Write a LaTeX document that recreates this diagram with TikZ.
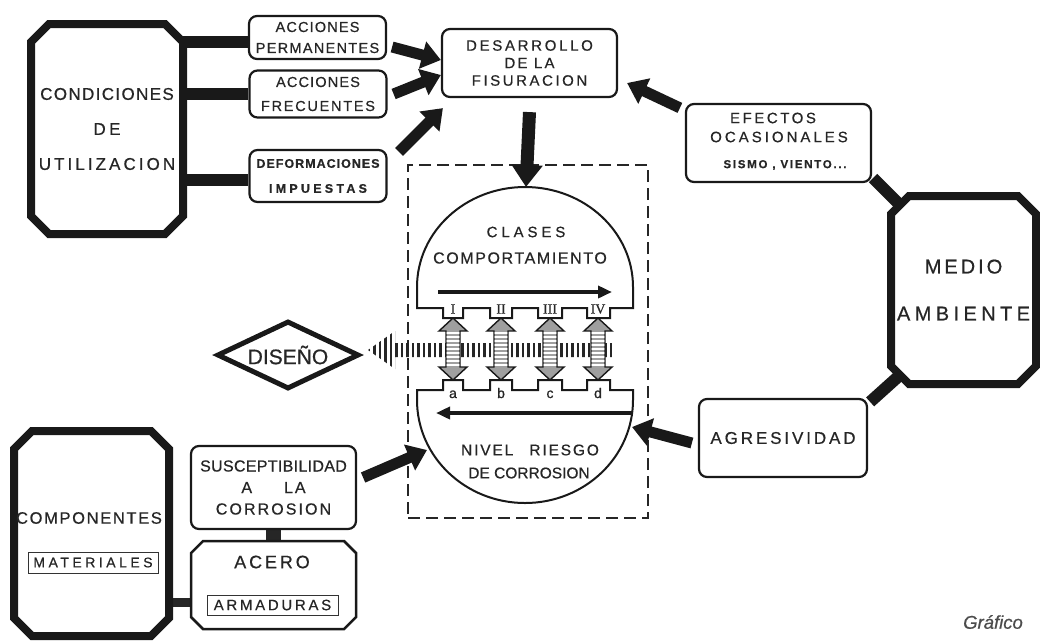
\documentclass[tikz,border=0pt]{standalone}
\usepackage{fontspec}
\setmainfont{Liberation Sans}[FakeBold=0.6]
\newfontfamily\romanfont{Liberation Serif}[FakeBold=0.6]
\usetikzlibrary{arrows.meta,shapes.geometric,calc}
\pgfdeclarelayer{bg}
\pgfdeclarelayer{mid}
\pgfsetlayers{bg,mid,main}
\newcommand\LS[2]{{\addfontfeature{LetterSpace=#1}#2}}
\newcommand\fsz[2]{\fontsize{#1}{#2}\selectfont}
\newcommand\myocta[3]{\draw[#3] ($(#1.north west)+(#2,0)$) -- ($(#1.north east)+(-#2,0)$) -- ($(#1.north east)+(0,#2)$) -- ($(#1.south east)+(0,-#2)$) -- ($(#1.south east)+(-#2,0)$) -- ($(#1.south west)+(#2,0)$) -- ($(#1.south west)+(0,-#2)$) -- ($(#1.north west)+(0,#2)$) -- cycle;}
\begin{document}
\begin{tikzpicture}[x=1pt,y=-1pt,
  txt/.style={text=black!85, inner sep=0pt, align=center},
  box/.style={txt, draw=black!90, line width=2.2pt, rounded corners=8pt, fill=white},
  anchorbox/.style={txt, draw=none, outer sep=0pt},
  framed/.style={txt, draw=black!80, line width=1pt},
  octthick/.style={line width=8pt, draw=black!90, fill=white, line join=miter},
  octthin/.style={line width=2.5pt, draw=black!90, fill=white, line join=miter},
  conn/.style={line width=12pt, black!90},
  fat/.style={line width=11pt, black!90, -{Triangle[length=19pt,width=27pt]}},
  thinarrow/.style={line width=4pt, black!90, -{Triangle[length=14pt,width=12pt]}},
]
\useasboundingbox (0,0) rectangle (1040,641);

% ---------- top left ----------
\node[anchorbox, minimum width=152pt, minimum height=210pt, font=\fsz{17}{35}] (cond) at (107,129)
  {\LS{8}{CONDICIONES}\\\LS{20}{DE}\\\LS{18}{UTILIZACION}};
\node[box, minimum width=137pt, minimum height=43pt, font=\fsz{14.5}{21}] (perm) at (317.5,37.5)
  {\LS{8}{ACCIONES}\\\LS{9}{PERMANENTES}};
\node[box, minimum width=137pt, minimum height=47pt, font=\fsz{14.5}{24}] (frec) at (318,94)
  {\LS{8}{ACCIONES}\\\LS{12}{FRECUENTES}};
\node[box, minimum width=137pt, minimum height=52pt, font=\bfseries\fsz{12.5}{25}] (defo) at (318,176)
  {\LS{8}{DEFORMACIONES}\\\LS{26}{IMPUESTAS}};
\node[box, minimum width=175pt, minimum height=68pt, font=\fsz{15}{17.5}] (desa) at (529.5,63)
  {\LS{18}{DESARROLLO}\\\LS{15}{DE LA}\\\LS{17}{FISURACION}};

% ---------- right ----------
\node[box, minimum width=185pt, minimum height=78pt] (efec) at (778.5,143) {};
\node[txt, font=\fsz{15}{15}] (efec1) at (773,118) {\LS{17}{EFECTOS}};
\node[txt, font=\fsz{15}{15}] (efec2) at (779,137) {\LS{20}{OCASIONALES}};
\node[txt, font=\bfseries\fsz{11.5}{11.5}] (efec3) at (785,165) {\LS{15}{SISMO , VIENTO...}};
\node[anchorbox, minimum width=145pt, minimum height=188pt, font=\fsz{20}{47}] (medio) at (963.5,290)
  {\LS{15}{MEDIO}\\\LS{22}{AMBIENTE}};
\node[box, minimum width=168pt, minimum height=78pt, font=\fsz{17}{17}] (agre) at (783,438)
  {\LS{17}{AGRESIVIDAD}};

% ---------- bottom left ----------
\node[anchorbox, minimum width=155pt, minimum height=205pt] (comp) at (91.5,533.5) {};
\node[box, minimum width=165pt, minimum height=83pt, font=\fsz{16}{21.5}] (susc) at (273.5,487.5)
  {\LS{2}{SUSCEPTIBILIDAD}\\\LS{12}{A\hspace{32pt}LA}\\\LS{13}{CORROSION}};
\node[anchorbox, minimum width=165pt, minimum height=88pt] (acero) at (273.5,585) {};

% octagon outlines
\begin{pgfonlayer}{mid}
\myocta{cond}{18}{octthick}
\myocta{medio}{18}{octthick}
\myocta{comp}{18}{octthick}
\myocta{acero}{12}{octthin}
\end{pgfonlayer}

\node[txt, font=\fsz{16.5}{16.5}] (comptxt) at (89,518) {\LS{10}{COMPONENTES}};
\node[framed, minimum width=130pt, minimum height=21pt, font=\fsz{14}{14}] (mater) at (93,562.5) {\LS{25}{MATERIALES}};
\node[txt, font=\fsz{18}{18}] (acerotxt) at (272,562) {\LS{16}{ACERO}};
\node[framed, minimum width=131pt, minimum height=20pt, font=\fsz{15}{15}] (armad) at (272.5,605) {\LS{18}{ARMADURAS}};

% ---------- diseño ----------
\node[diamond, aspect=2.2, draw=black!90, line width=5pt, minimum width=142pt, minimum height=68pt, inner sep=0pt, text=black!85, font=\fsz{21}{21}] (dis) at (288,355) {DISEÑO};

% ---------- centre frame and domes ----------
\node[draw=black!85, line width=2pt, dash pattern=on 12pt off 6pt, minimum width=240pt, minimum height=353pt, inner sep=0pt, outer sep=0pt] (frame) at (528,341.5) {};

\draw[line width=2pt, black!90, fill=white] (417,308) -- (417,287) arc[start angle=180, end angle=0, x radius=108pt, y radius=100pt]
  -- (633,308) -- (610,308) -- (610,318) -- (587,318) -- (587,308) -- (562,308) -- (562,318) -- (538,318) -- (538,308)
  -- (512,308) -- (512,318) -- (490,318) -- (490,308) -- (463,308) -- (463,318) -- (443,318) -- (443,308) -- cycle;
\draw[line width=2pt, black!90, fill=white] (417,390) -- (417,400) arc[start angle=180, end angle=360, x radius=108pt, y radius=103pt]
  -- (633,390) -- (610,390) -- (610,380) -- (587,380) -- (587,390) -- (562,390) -- (562,380) -- (538,380) -- (538,390)
  -- (512,390) -- (512,380) -- (490,380) -- (490,390) -- (463,390) -- (463,380) -- (443,380) -- (443,390) -- cycle;

\coordinate (clstop) at (526,187);
\coordinate (riesgoR) at (632,427);
\coordinate (riesgoL) at (427,450);
\coordinate (ua1) at (438,292);
\coordinate (ua2) at (612,292);
\coordinate (la1) at (632,413);
\coordinate (la2) at (436,413);

\node[txt, font=\fsz{15}{15}] (cls1) at (526,232) {\LS{26}{CLASES}};
\node[txt, font=\fsz{16}{16}] (cls2) at (520,258) {\LS{10}{COMPORTAMIENTO}};
\node[txt, font=\fsz{15.5}{15.5}] (nivel) at (530,450) {\LS{12}{NIVEL\hspace{16pt}RIESGO}};
\node[txt, font=\fsz{15.5}{15.5}] (decorr) at (529,473) {DE CORROSION};

\draw[thinarrow] (ua1) -- (ua2);
\draw[thinarrow] (la1) -- (la2);

% hatched arrow to DISEÑO
\begin{scope}
\clip (368,350) -- (395,331) -- (395,343) -- (615,343) -- (615,357) -- (395,357) -- (395,369) -- cycle;
\foreach \x in {369,374.5,...,616} \draw[line width=2.6pt, black!85] (\x,325) -- (\x,375);
\end{scope}

% double arrows
\foreach \x in {453,501,550,598} {
  \path[fill=gray!75, draw=black!90, line width=1.4pt] (\x,318) -- (\x+14,331) -- (\x+7,331) -- (\x+7,367) -- (\x+14,367) -- (\x,380) -- (\x-14,367) -- (\x-7,367) -- (\x-7,331) -- (\x-14,331) -- cycle;
  \begin{scope}
  \clip (\x-6.3,331) rectangle (\x+6.3,367);
  \foreach \y in {333,337,...,366} \draw[white, line width=1.2pt] (\x-7,\y) -- (\x+7,\y);
  \end{scope}
}

\foreach \x/\r [count=\i] in {453/I,501/II,550/III,598/IV}
  \node[txt, font=\romanfont\fsz{14}{14}] (rom\i) at (\x,309) {\r};
\foreach \x/\r [count=\i] in {453/a,501/b,550/c,598/d}
  \node[txt, anchor=base, font=\fsz{14}{14}] (let\i) at (\x,398) {\r};

\node[txt, text=black!70, font=\itshape\fsz{18.5}{18.5}] (graf) at (993,622) {Gráfico};

% ---------- connectors (background) ----------
\begin{pgfonlayer}{bg}
\coordinate (p1) at ([yshift=-4pt]perm.west);
\coordinate (p2) at (frec.west);
\coordinate (p3) at ([yshift=-4pt]defo.west);
\draw[conn] (p1 -| cond.east) -- (p1);
\draw[conn] (p2 -| cond.east) -- (p2);
\draw[conn] (p3 -| cond.east) -- (p3);
\draw[conn] ([xshift=1pt,yshift=5pt]efec.south east) -- ($(medio.north west)+(9,9)$);
\draw[conn] ([xshift=2pt,yshift=-4pt]agre.north east) -- ($(medio.south west)+(9,-9)$);
\draw[line width=15pt, black!85] (susc.south) -- (acero.north);
\coordinate (p4) at ([yshift=-17pt]acero.west);
\draw[line width=9pt, black!85] (p4 -| comp.east) -- (p4);
\end{pgfonlayer}

% ---------- fat arrows ----------
\draw[fat] ([xshift=5pt,yshift=-9.5pt]perm.east) -- ([yshift=3pt]desa.west);
\draw[fat] ([xshift=6pt]frec.east) -- ([yshift=-12pt]desa.west);
\draw[fat] ([xshift=11.5pt,yshift=-3pt]defo.north east) -- ([xshift=2pt,yshift=-10pt]desa.south west);
\draw[line width=13pt, black!90, -{Triangle[length=22pt,width=30pt]}] ([yshift=-14pt]desa.south) -- (clstop);
\draw[fat] ([xshift=-5pt,yshift=-5pt]efec.north west) -- ([xshift=9pt,yshift=-20pt]desa.east);
\draw[fat] ([xshift=-6pt,yshift=-5pt]agre.west) -- (riesgoR);
\draw[fat] ([xshift=6pt,yshift=10pt]susc.east) -- (riesgoL);
\end{tikzpicture}
\end{document}
